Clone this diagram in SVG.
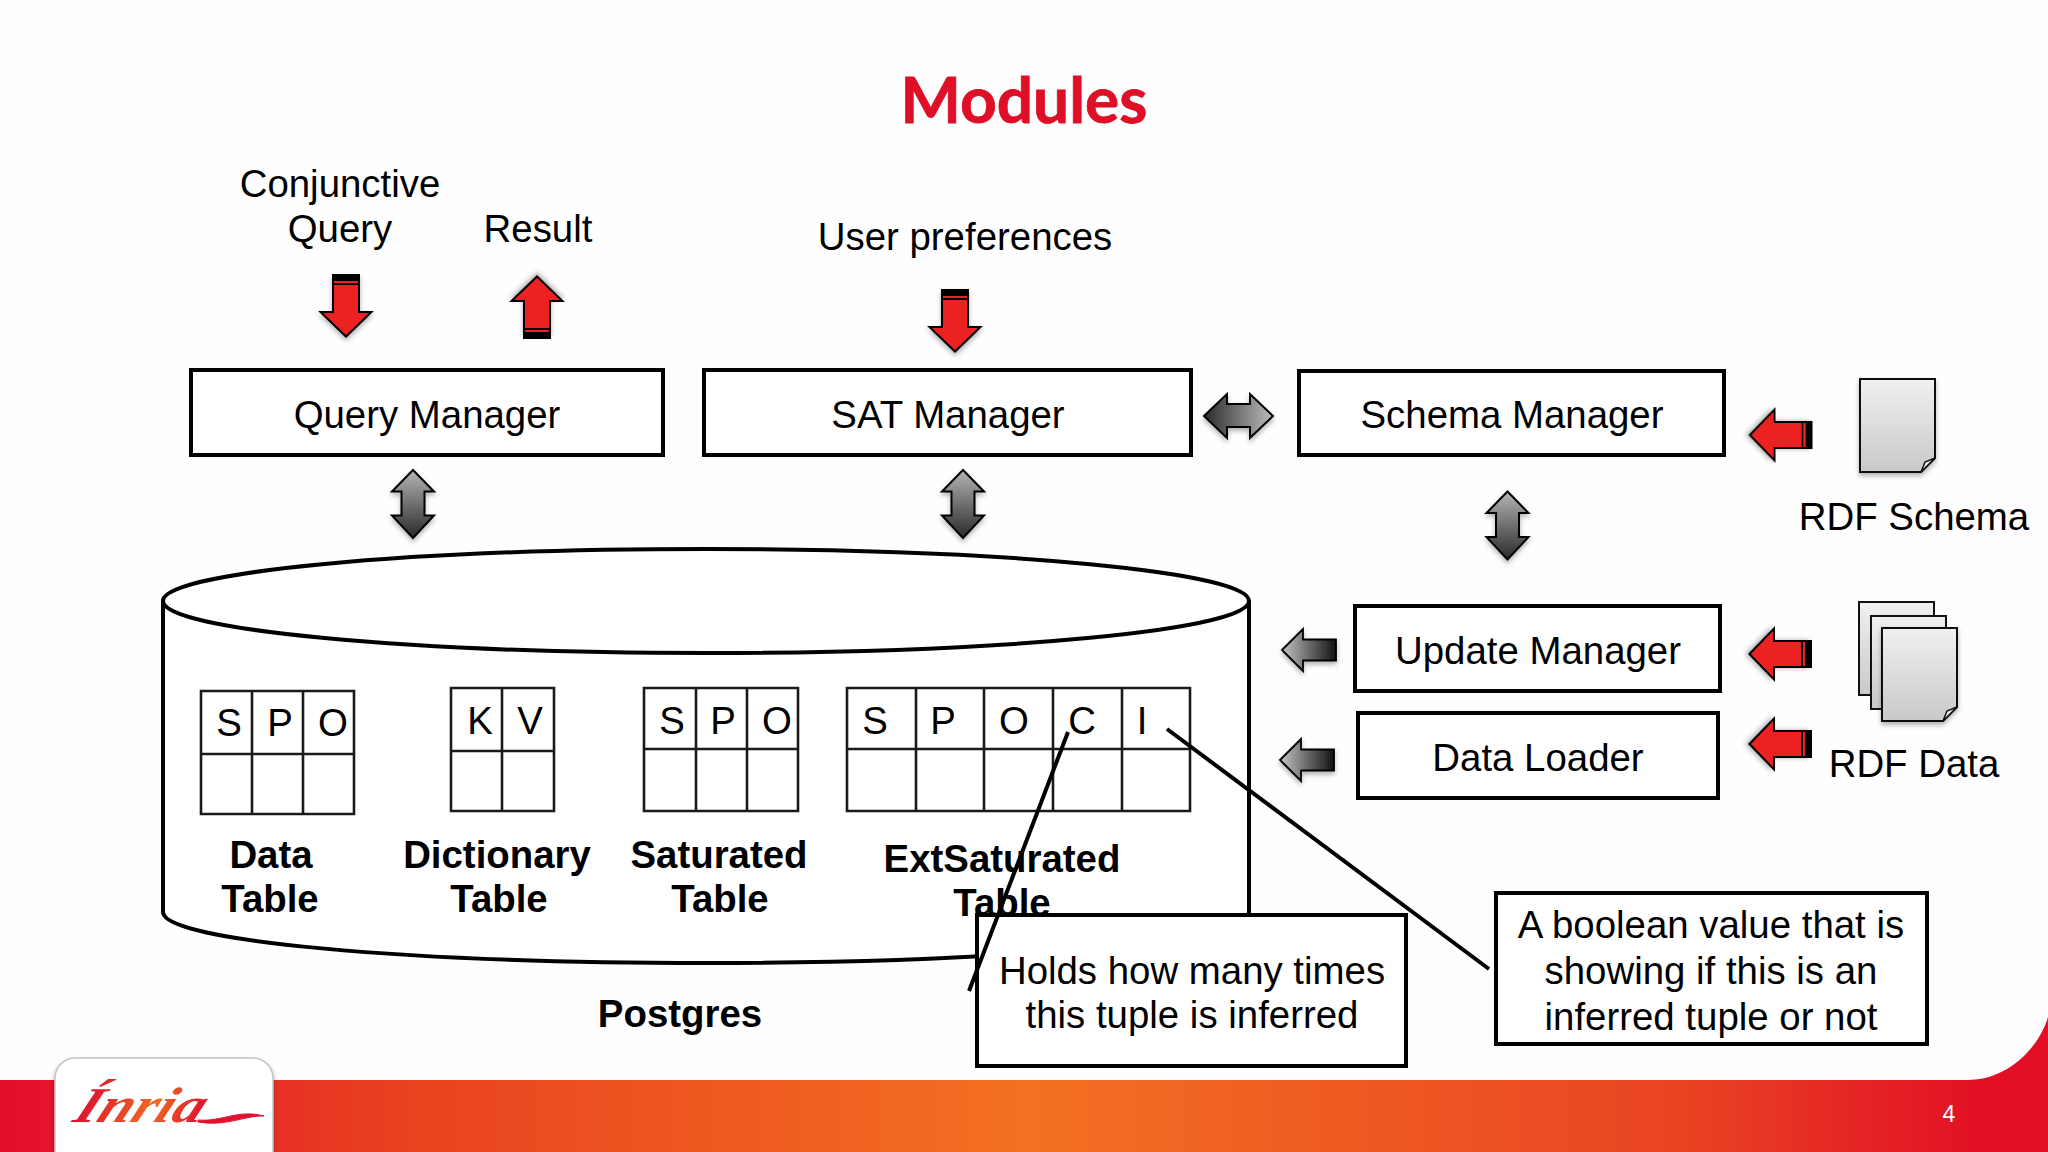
<svg xmlns="http://www.w3.org/2000/svg" xmlns:xlink="http://www.w3.org/1999/xlink" width="2048" height="1152" viewBox="0 0 2048 1152">
<style>
text{font-family:"Liberation Sans",Arial,sans-serif;font-size:38.400px;fill:#000;text-anchor:middle}
.b{font-weight:bold}
.box{fill:#fff;stroke:#000;stroke-width:4}
.cell{fill:none;stroke:#1a1a1a;stroke-width:2.6}
.call{fill:none;stroke:#000;stroke-width:4}
.page{stroke:#111;stroke-width:2}
.dbl{stroke:#000;stroke-width:2;stroke-linejoin:miter}
.red{fill:#ec2224;stroke:#000;stroke-width:2;stroke-linejoin:miter}
</style>
<defs>
<linearGradient id="foot" x1="0" x2="1" y1="0" y2="0">
<stop offset="0" stop-color="#e30e2c"/><stop offset="0.2" stop-color="#e9421f"/><stop offset="0.5" stop-color="#f37022"/><stop offset="0.82" stop-color="#e94422"/><stop offset="0.97" stop-color="#e20f26"/><stop offset="1" stop-color="#e20f26"/>
</linearGradient>
<linearGradient id="page" x1="0" x2="0" y1="0" y2="1"><stop offset="0" stop-color="#f0f0f0"/><stop offset="1" stop-color="#c9c9c9"/></linearGradient>
<linearGradient id="gv" x1="0" x2="0" y1="0" y2="1"><stop offset="0" stop-color="#b5b5b5"/><stop offset="1" stop-color="#2a2a2a"/></linearGradient>
<linearGradient id="gh" x1="0" x2="1" y1="0" y2="0"><stop offset="0" stop-color="#2a2a2a"/><stop offset="1" stop-color="#bdbdbd"/></linearGradient>
<linearGradient id="gl" x1="0" x2="1" y1="0" y2="0"><stop offset="0" stop-color="#c4c4c4"/><stop offset="1" stop-color="#111"/></linearGradient>
<linearGradient id="logo" x1="0" x2="1" y1="0" y2="0"><stop offset="0" stop-color="#d90f2f"/><stop offset="0.6" stop-color="#ee6a24"/><stop offset="1" stop-color="#e2122e"/></linearGradient>
<filter id="sh" x="-20%" y="-20%" width="140%" height="150%"><feDropShadow dx="0" dy="3" stdDeviation="2.500" flood-color="#000" flood-opacity="0.3"/></filter>
<g id="redDown">
<path class="red" d="M-13 -31H13V6H25.500L0 30.500L-25.500 6H-13Z"/>
<rect x="-13" y="-31" width="26" height="6" fill="#000"/>
<rect x="-13" y="-23" width="26" height="2" fill="#000"/>
</g>
<g id="grayLeft">
<path d="M-27 0L-6 -21V-10.500H27V10.500H-6V21Z" fill="url(#gl)" stroke="#000" stroke-width="1.800"/>
</g>
<path id="dblV" class="dbl" fill="url(#gv)" d="M0 -34L21 -12.500H11.500V11.500H21L0 34L-21 11.500H-11.500V-12.500H-21Z"/>
<path id="fold" d="M-75 -93H0V-14L-14 0H-75Z"/>
</defs>

<rect width="2048" height="1152" fill="#fefefe"/>
<path d="M0 1080H1967C2010 1080 2040 1045 2048 1017V1152H0Z" fill="url(#foot)"/>

<g id="logo-card">
<rect x="55" y="1058" width="218" height="120" rx="20" fill="#fff" stroke="#c4c4c4" stroke-width="1.500" filter="url(#sh)"/>
<text x="0" y="0" transform="translate(135 1122) skewX(-24)" style="font-family:'Liberation Serif',serif;font-style:italic;font-weight:bold;font-size:50px;fill:url(#logo)" textLength="128" lengthAdjust="spacingAndGlyphs">Ínria</text>
<path d="M198 1120C222 1122 238 1109 264 1116C246 1115 226 1127 198 1122Z" fill="#e2122e" stroke="#e2122e" stroke-width="1"/>
</g>

<text class="title" x="1024" y="123" style="font-family:Lato,'Open Sans',sans-serif;font-weight:bold;font-size:64px;fill:#de0f26;stroke:#de0f26;stroke-width:0.800">Modules</text>

<g id="postgres">
<path d="M163 601V912C163 941 406 963 706 963S1249 941 1249 912V601" fill="#fff" stroke="#000" stroke-width="4"/>
<ellipse cx="706" cy="601" rx="543" ry="52" fill="#fff" stroke="#000" stroke-width="4"/>
<text class="b" x="680" y="1027">Postgres</text>
</g>

<g id="data-table">
<path class="cell" d="M201 691H354V814H201ZM201 754H354M252 691V814M303 691V814"/>
<text x="229" y="736">S</text><text x="280" y="736">P</text><text x="333" y="736">O</text>
<text class="b" x="271" y="868">Data</text><text class="b" x="270" y="912">Table</text>
</g>
<g id="dictionary-table">
<path class="cell" d="M451 688H554V811H451ZM451 751H554M502 688V811"/>
<text x="480" y="734">K</text><text x="530" y="734">V</text>
<text class="b" x="497" y="868">Dictionary</text><text class="b" x="499" y="912">Table</text>
</g>
<g id="saturated-table">
<path class="cell" d="M644 688H798V811H644ZM644 749H798M696 688V811M747 688V811"/>
<text x="672" y="734">S</text><text x="723" y="734">P</text><text x="777" y="734">O</text>
<text class="b" x="719" y="868">Saturated</text><text class="b" x="720" y="912">Table</text>
</g>
<g id="extsaturated-table">
<path class="cell" d="M847 688H1190V811H847ZM847 749H1190M916 688V811M984 688V811M1053 688V811M1122 688V811"/>
<text x="875" y="734">S</text><text x="943" y="734">P</text><text x="1014" y="734">O</text><text x="1082" y="734">C</text><text x="1142" y="734">I</text>
<text class="b" x="1002" y="872">ExtSaturated</text><text class="b" x="1002" y="916">Table</text>
</g>

<g id="query-manager"><rect class="box" x="191" y="370" width="472" height="85"/><text x="427" y="428">Query Manager</text></g>
<g id="sat-manager"><rect class="box" x="704" y="370" width="487" height="85"/><text x="948" y="428">SAT Manager</text></g>
<g id="schema-manager"><rect class="box" x="1299" y="371" width="425" height="84"/><text x="1512" y="428">Schema Manager</text></g>
<g id="update-manager"><rect class="box" x="1355" y="606" width="365" height="85"/><text x="1538" y="664">Update Manager</text></g>
<g id="data-loader"><rect class="box" x="1358" y="713" width="360" height="85"/><text x="1538" y="771">Data Loader</text></g>

<g id="holds-note"><rect class="box" x="977" y="915" width="429" height="151"/><text x="1192" y="984">Holds how many times</text><text x="1192" y="1028">this tuple is inferred</text></g>
<g id="boolean-note"><rect class="box" x="1496" y="893" width="431" height="151"/><text x="1711" y="938">A boolean value that is</text><text x="1711" y="984">showing if this is an</text><text x="1711" y="1030">inferred tuple or not</text></g>

<g id="rdf-schema">
<use xlink:href="#fold" href="#fold" transform="translate(1935 472)" fill="url(#page)" class="page" filter="url(#sh)"/>
<path d="M1921 472L1935 458L1925 462Z" fill="#eee" stroke="#111" stroke-width="1.500"/>
<text x="1914" y="530">RDF Schema</text>
</g>
<g id="rdf-data">
<use xlink:href="#fold" href="#fold" transform="translate(1934 695)" fill="url(#page)" class="page"/>
<use xlink:href="#fold" href="#fold" transform="translate(1946 709)" fill="url(#page)" class="page"/>
<use xlink:href="#fold" href="#fold" transform="translate(1957 721)" fill="url(#page)" class="page" filter="url(#sh)"/>
<path d="M1943 721L1957 707L1947 711Z" fill="#eee" stroke="#111" stroke-width="1.500"/>
<text x="1914" y="777">RDF Data</text>
</g>

<g id="top-labels">
<text x="340" y="197">Conjunctive</text><text x="340" y="242">Query</text>
<text x="538" y="242">Result</text>
<text x="965" y="250">User preferences</text>
</g>

<g id="connectors">
<use href="#redDown" transform="translate(346 306)" filter="url(#sh)"/>
<use href="#redDown" transform="translate(537 307) rotate(180)" filter="url(#sh)"/>
<use href="#redDown" transform="translate(955 321)" filter="url(#sh)"/>
<use href="#redDown" transform="translate(1780.500 435) rotate(90)" filter="url(#sh)"/>
<use href="#redDown" transform="translate(1780 654) rotate(90)" filter="url(#sh)"/>
<use href="#redDown" transform="translate(1780 744) rotate(90)" filter="url(#sh)"/>
<use href="#grayLeft" transform="translate(1309 650)" filter="url(#sh)"/>
<use href="#grayLeft" transform="translate(1307 760)" filter="url(#sh)"/>
<use href="#dblV" transform="translate(413 504)" filter="url(#sh)"/>
<use href="#dblV" transform="translate(963 504)" filter="url(#sh)"/>
<use href="#dblV" transform="translate(1507.500 525.500)" filter="url(#sh)"/>
<path class="dbl" fill="url(#gh)" filter="url(#sh)" d="M1204 416L1227 394V404H1250V394L1273 416L1250 438V427H1227V438Z"/>
<path class="call" d="M1068 732L969 991"/>
<path class="call" d="M1167 729L1489 969"/>
</g>

<text x="1949" y="1122" style="font-size:23px;fill:#fff">4</text>
</svg>
